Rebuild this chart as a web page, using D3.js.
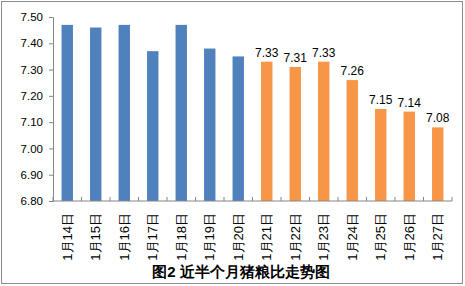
<!DOCTYPE html>
<meta charset="utf-8">
<script src="https://cdn.jsdelivr.net/npm/d3@7"></script>
<style>
  body { margin: 0; background: #fff; }
  text { font-family: "Liberation Sans", Arial, sans-serif; }
</style>
<body>
<script>
  // data
  var days = ["1月14日","1月15日","1月16日","1月17日","1月18日","1月19日","1月20日",
              "1月21日","1月22日","1月23日","1月24日","1月25日","1月26日","1月27日"];
  var ratios = [7.47, 7.46, 7.47, 7.37, 7.47, 7.38, 7.35,
                7.33, 7.31, 7.33, 7.26, 7.15, 7.14, 7.08];
  var labelled = [false,false,false,false,false,false,false,
                  true,true,true,true,true,true,true];
  var yTicks = [6.80, 6.90, 7.00, 7.10, 7.20, 7.30, 7.40, 7.50];
  var title = "图2 近半个月猪粮比走势图";

  var W = 465, H = 286,
      plotL = 53, plotR = 452, plotT = 17, plotB = 201;

  var svg = d3.select("body").append("svg")
      .attr("width", W)
      .attr("height", H);

  svg.append("rect")
      .attr("x", 1.5).attr("y", 1.5)
      .attr("width", W - 4).attr("height", H - 4)
      .attr("fill", "#fff")
      .attr("stroke", "#8c8c8c");

  var x = d3.scaleBand()
      .domain(days)
      .range([plotL, plotR])
      .paddingInner(0.6)
      .paddingOuter(0.3);

  var y = d3.scaleLinear()
      .domain([6.8, 7.5])
      .range([plotB, plotT]);

  // y axis
  var yAxis = svg.append("g")
      .attr("transform", "translate(" + plotL + ",0)")
      .call(d3.axisLeft(y).tickValues(yTicks).tickFormat(d3.format(".2f")).tickSize(4).tickPadding(6));
  yAxis.selectAll("path, line").attr("stroke", "#868686");
  yAxis.selectAll("text").attr("font-size", 11.5).attr("fill", "#000");

  // bars
  svg.selectAll("rect.bar")
      .data(ratios)
      .enter().append("rect")
      .attr("class", "bar")
      .attr("x", function(d, i) { return x(days[i]); })
      .attr("width", x.bandwidth())
      .attr("y", function(d) { return y(d); })
      .attr("height", function(d) { return plotB - y(d); })
      .attr("fill", function(d, i) { return labelled[i] ? "#f79646" : "#4f81bd"; });

  // data labels (orange bars only)
  ratios.forEach(function(d, i) {
    if (!labelled[i]) return;
    svg.append("text")
        .attr("x", x(days[i]) + x.bandwidth() / 2)
        .attr("y", y(d) - 5)
        .attr("text-anchor", "middle")
        .attr("font-size", 12)
        .attr("fill", "#000")
        .text(d3.format(".2f")(d));
  });

  // x axis
  var xAxis = svg.append("g")
      .attr("transform", "translate(0," + plotB + ")");
  xAxis.append("line")
      .attr("x1", plotL).attr("x2", plotR)
      .attr("stroke", "#868686");
  xAxis.selectAll("line.tk")
      .data(d3.range(days.length + 1))
      .enter().append("line")
      .attr("class", "tk")
      .attr("x1", function(i) { return plotL + (plotR - plotL) * i / days.length; })
      .attr("x2", function(i) { return plotL + (plotR - plotL) * i / days.length; })
      .attr("y1", 0).attr("y2", -4)
      .attr("stroke", "#868686");
  xAxis.selectAll("text")
      .data(days)
      .enter().append("text")
      .attr("transform", function(d) {
        return "translate(" + (x(d) + x.bandwidth() / 2 + 4.5) + ",12) rotate(-90)";
      })
      .attr("text-anchor", "end")
      .attr("font-size", 13)
      .attr("font-family", "'Noto Sans CJK SC', sans-serif")
      .attr("fill", "#000")
      .text(function(d) { return d; });

  // title
  svg.append("text")
      .attr("x", 241)
      .attr("y", 277)
      .attr("text-anchor", "middle")
      .attr("font-size", 15)
      .attr("font-weight", "bold")
      .attr("font-family", "'Noto Sans CJK SC', sans-serif")
      .attr("fill", "#000")
      .text(title);
</script>
</body>
